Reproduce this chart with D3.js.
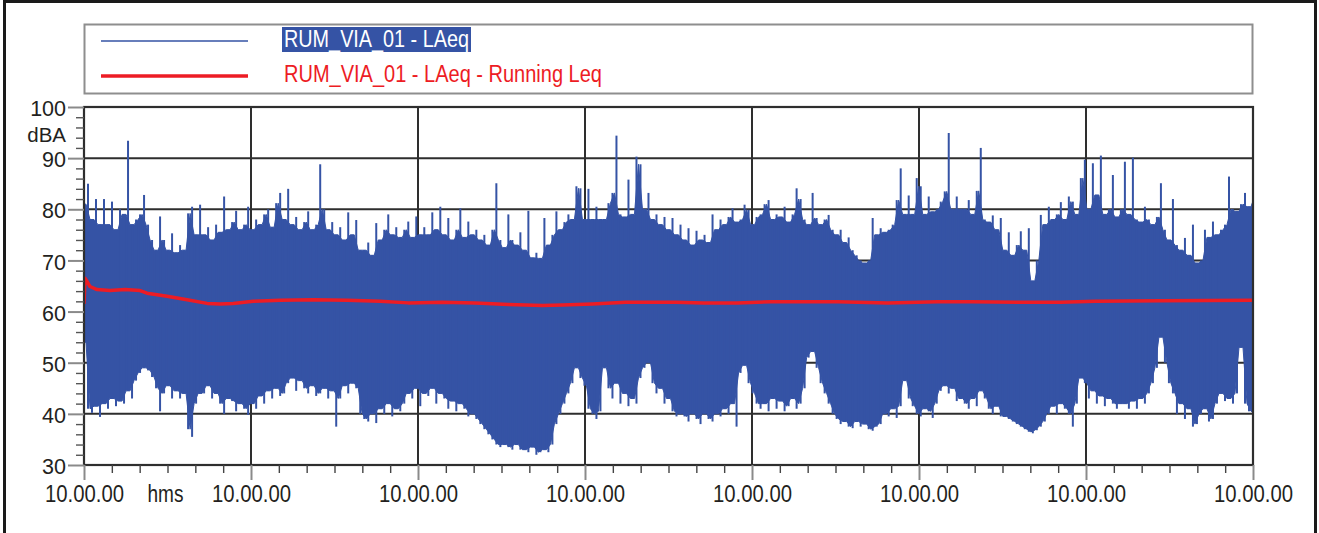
<!DOCTYPE html>
<html><head><meta charset="utf-8">
<script src="https://cdn.jsdelivr.net/npm/d3@7/dist/d3.min.js"></script>
<style>
body{margin:0;background:#fff;}
svg{display:block;font-family:"Liberation Sans",Arial,Helvetica,sans-serif;}
</style>
</head><body>
<svg id="chart" width="1319" height="533"></svg>
<script>
// ---------------- data ----------------
const seriesNames = ["RUM_VIA_01 - LAeq", "RUM_VIA_01 - LAeq - Running Leq"];
const yUnit = "dBA";
const xUnit = "hms";
const xTickLabels = ["10.00.00","10.00.00","10.00.00","10.00.00","10.00.00","10.00.00","10.00.00","10.00.00"];
const yTickValues = [30,40,50,60,70,80,90,100];
const yMinorValues = [32,34,36,38,42,44,46,48,52,54,56,58,62,64,66,68,72,74,76,78,82,84,86,88,92,94,96,98];

// LAeq envelope, one pair per sample (upper / lower level, dBA)
const laeqHigh = [
81,85,78,82,77,82,77,81.5,76,80,
79,93.4,77,78,79,82.8,77,74,72,78.6,
74,72,75.3,71.5,73,72,79.2,80.5,75,80.9,
75,76.5,74,77,75.5,82.5,76,77.5,79.7,76,
77,80.5,76,78,77,79,80,76.5,81.2,83.2,
78,84,77,78.5,76,77.5,79.6,76,77,88.8,
80,76,77.5,75,76.5,74,79.4,75,77.9,72,
72,73.5,71,77.3,74,76,79,75,76.5,74.5,
76,77.6,74.5,78.6,75,76.5,75,79.4,76,80.5,
75,78.3,74,76,80.2,74.5,77.6,75,76,74,
75,73,76,85.1,74,72.5,79,74,73,75.5,
72,79.7,70.5,71.5,70.4,78.3,73,75,79.6,76,
77.5,79,78,84.5,84.1,78,84,78,80.5,78,
78,81.2,83.2,94.4,79,78.5,85.8,79,90.3,88.8,
80,83.2,78,79,77,78.5,76,78.3,75,77,
74,76.3,73,75.8,74,75,73.5,79,76,78,
77,78.5,80.2,77.5,78,80.9,79.9,77,78.5,79,
81,81.8,78,79,78.5,80.5,77.5,79,84.1,82,
78,77,83.2,78.3,77,78,78.9,76,75,76,
73.5,74.5,72,71,70,69.5,70,78.3,75,76.3,
75.5,76,77,81.8,88,79,82.7,79,86.1,84.5,
79,82.5,79.5,80,81.5,83.5,94.9,80,82.5,80,
80,81.8,79,83.6,92,78,77.5,78.8,76,78.3,
72,75.5,71,73,75.7,72,76.3,66,70,78.9,
77,80.5,78,79,81.4,78,82.5,81.5,79,86.1,
89.7,80,89,82.8,90.5,79,80,86.7,78.5,80,
89.3,79,90.1,78,77.5,80.5,78,77,78.5,85.1,
76,74,82,73,72,74.4,71,77,69.5,70,
76,74.5,77.6,75,76,77,86.4,80,79.6,81,83.2,80.5,82.8
];
const laeqLow = [
54,41,40.2,41.5,39.4,42,41,43,41.5,42.5,
42,44.5,43,46.5,48,49,48.5,47.2,45,40.5,
44,45.5,43,44.5,43,44,37,35.5,42,44,
44,45.5,43,44,42,40,43,42.5,40.5,42,
41,39.8,42,41,43.5,42,44.5,43,45,43.5,
44,46,47,44.5,46.5,45,44,45.5,43.5,44,
45,43,44.5,37.5,43,45.5,44,46,45,40,
39,38.5,40,38.2,41,40,42,39.5,41,40.5,
42,44,43,45,41.5,44,43.5,45,42,44,
43,41,42.5,40.5,42,41,39.5,40,39,38,
37,36,35,34,33.5,34,33.5,33,34,33,
33,32.5,33.5,32,32.5,33,32.5,34,38,40,
42,44,46,49,47,45.5,41,40,39,40.5,
49,45,43,46,42,44,41.5,43,42,47,
49,50,46,44,45,42,43,40.5,39.5,40,
39.5,38.5,40,39,38,40,39,38.5,40,39.5,
41,40,42,37.5,48,49.5,46,44,42,41,
42,40.5,43,41,42.5,40.5,41.5,43,41,42,
45,51,52.2,49,46,44,42,40,39,38,
38.5,37.5,37.2,38.5,37.5,38,37,36.7,37.5,38,
40,39.5,41,39.2,41.5,46.5,43,41.5,40,39.5,
41,40.5,39.2,42,44.5,45.5,44,45,42.5,43,
42,41,43,41.5,44.5,43,41,40,41.5,39.5,
39.5,39,38.5,38,37.5,37,36.5,36.2,36.8,37.5,
38.5,40,41.5,40,42,41,40,37.5,42,47,
46,43,44.5,42,43.5,41.5,43,42,41,42,
42,41,42.5,41,43,42,44,46,49,55,
50,46,44,40,42,39,41,37.5,38,40,
41,38.5,39,42,44,42.5,43,42,44,53,42,40.5,40
];
// Running Leq: sample position and level
const leqTime = [0,0.25,0.75,1.5,3.25,6.5,10.25,14,15.75,20.75,25.75,30.75,34,37.25,42.25,49,57.25,65.75,74,81,89.5,97.75,106,114.5,119.5,127,135.25,147.75,154.75,163.25,171.5,188.25,200.75,213.25,221.5,235.75,244,252.5,269,292];
const leqValues = [61.5,66.5,65.9,64.9,64.3,64.1,64.3,64.1,63.6,63,62.3,61.6,61.5,61.6,62,62.2,62.3,62.2,62,61.7,61.8,61.7,61.4,61.2,61.3,61.5,61.8,61.8,61.7,61.7,61.9,61.9,61.7,61.9,61.9,61.8,61.8,62,62.1,62.2];

// ---------------- drawing ----------------
const BLUE = "#3553a5", RED = "#ed1c24", GRID = "#2e2e2e", TEXT = "#231f20";
const svg = d3.select("#chart");
const L = 84, R = 1253, T = 107, B = 465;
const nSamples = laeqHigh.length;
const x = d3.scaleLinear().domain([0, nSamples - 1]).range([L, R]);
const y = d3.scaleLinear().domain([30, 100]).range([B, T]);
const nMajor = xTickLabels.length - 1;
const xMajor = d3.range(xTickLabels.length).map(k => k * (nSamples - 1) / nMajor);
const xMinor = d3.range(nMajor * 6 + 1).filter(k => k % 6 !== 0).map(k => k * (nSamples - 1) / (nMajor * 6));

svg.append("rect").attr("width",1319).attr("height",533).attr("fill","#fff");
// outer frame
svg.append("rect").attr("x",4.5).attr("y",1.5).attr("width",1311).attr("height",600)
  .attr("fill","none").attr("stroke","#1a1a1a").attr("stroke-width",3);

// legend
const lg = svg.append("g");
lg.append("rect").attr("x",84.5).attr("y",24.5).attr("width",1168).attr("height",69)
  .attr("fill","#fff").attr("stroke","#8e8e8e").attr("stroke-width",2);
lg.append("line").attr("x1",101).attr("x2",248).attr("y1",41).attr("y2",41)
  .attr("stroke",BLUE).attr("stroke-width",1.5);
lg.append("rect").attr("x",282).attr("y",27).attr("width",189).attr("height",25).attr("fill",BLUE);
lg.append("text").attr("x",284).attr("y",47).attr("font-size",23.5).attr("fill","#fff")
  .attr("textLength",185).attr("lengthAdjust","spacingAndGlyphs").text(seriesNames[0]);
lg.append("line").attr("x1",101).attr("x2",248).attr("y1",76).attr("y2",76)
  .attr("stroke",RED).attr("stroke-width",3.5);
lg.append("text").attr("x",284).attr("y",82).attr("font-size",23.5).attr("fill",RED)
  .attr("textLength",318).attr("lengthAdjust","spacingAndGlyphs").text(seriesNames[1]);

// clip
svg.append("defs").append("clipPath").attr("id","plotclip")
  .append("rect").attr("x",L).attr("y",T).attr("width",R-L).attr("height",B-T);

// grid
const grid = svg.append("g");
grid.selectAll("line.h").data(yTickValues).join("line")
  .attr("x1",L).attr("x2",R).attr("y1",d=>y(d)).attr("y2",d=>y(d))
  .attr("stroke",GRID).attr("stroke-width",2);
grid.selectAll("line.v").data(xMajor).join("line")
  .attr("x1",d=>x(d)).attr("x2",d=>x(d)).attr("y1",T).attr("y2",B)
  .attr("stroke",GRID).attr("stroke-width",2);

// LAeq dense trace: band through the valleys between samples + one stroke per sample
const plot = svg.append("g").attr("clip-path","url(#plotclip)");
const core = [];
laeqHigh.forEach((h,i) => {
  const j = Math.min(nSamples-1, i+1);
  if (i === 0) core.push({t:0, hi:h, lo:laeqLow[0]});
  core.push({t:i+0.5, hi:Math.min(h, laeqHigh[j]), lo:Math.max(laeqLow[i], laeqLow[j])});
});
plot.append("path").datum(core)
  .attr("d", d3.area().x(d=>x(d.t)).y0(d=>y(d.lo)).y1(d=>y(d.hi)))
  .attr("fill",BLUE).attr("stroke",BLUE).attr("stroke-width",1);
plot.selectAll("line.s").data(laeqHigh).join("line")
  .attr("x1",(d,i)=>x(i)).attr("x2",(d,i)=>x(i))
  .attr("y1",(d,i)=>y(laeqLow[i])).attr("y2",d=>y(d))
  .attr("stroke",BLUE).attr("stroke-width",2);

// Running Leq
const leqData = leqTime.map((t,i)=>({t, v:leqValues[i]}));
plot.append("path").datum(leqData)
  .attr("d", d3.line().x(d=>x(d.t)).y(d=>y(d.v)))
  .attr("fill","none").attr("stroke",RED).attr("stroke-width",3.5).attr("stroke-linejoin","round");

// plot frame
svg.append("rect").attr("x",L).attr("y",T).attr("width",R-L).attr("height",B-T)
  .attr("fill","none").attr("stroke",GRID).attr("stroke-width",2.2);

// y axis
const yAx = svg.append("g").attr("transform",`translate(${L},0)`)
  .call(d3.axisLeft(y).tickValues(yTickValues).tickSize(16).tickPadding(2).tickFormat(d3.format("d")));
yAx.select(".domain").remove();
yAx.selectAll(".tick line").attr("stroke","#8a8a8a").attr("stroke-width",2);
yAx.selectAll(".tick text").attr("font-size",21.5).attr("fill",TEXT).attr("dy","0.4em");
const yMin = svg.append("g").attr("transform",`translate(${L},0)`)
  .call(d3.axisLeft(y).tickValues(yMinorValues).tickSize(8).tickFormat(""));
yMin.select(".domain").remove();
yMin.selectAll(".tick line").attr("stroke","#555").attr("stroke-width",1.4);
svg.append("text").attr("x",66).attr("y",141.5).attr("text-anchor","end")
  .attr("font-size",20.5).attr("fill",TEXT).text(yUnit);

// x axis
const xAx = svg.append("g").attr("transform",`translate(0,${B})`)
  .call(d3.axisBottom(x).tickValues(xMajor).tickSize(15).tickPadding(6).tickFormat((d,i)=>xTickLabels[i]));
xAx.select(".domain").remove();
xAx.selectAll(".tick line").attr("stroke","#8a8a8a").attr("stroke-width",2);
xAx.selectAll(".tick text").attr("font-size",23).attr("fill",TEXT)
  .attr("textLength",79).attr("lengthAdjust","spacingAndGlyphs");
const xMin = svg.append("g").attr("transform",`translate(0,${B})`)
  .call(d3.axisBottom(x).tickValues(xMinor).tickSize(8).tickFormat(""));
xMin.select(".domain").remove();
xMin.selectAll(".tick line").attr("stroke","#444").attr("stroke-width",1.4);
svg.append("text").attr("x",(x(xMajor[0])+x(xMajor[1]))/2-2).attr("y",502).attr("text-anchor","middle")
  .attr("font-size",23).attr("fill",TEXT).attr("textLength",36).attr("lengthAdjust","spacingAndGlyphs").text(xUnit);
svg.selectAll(".tick text").attr("font-family","'Liberation Sans',Arial,sans-serif");
</script>
</body></html>
